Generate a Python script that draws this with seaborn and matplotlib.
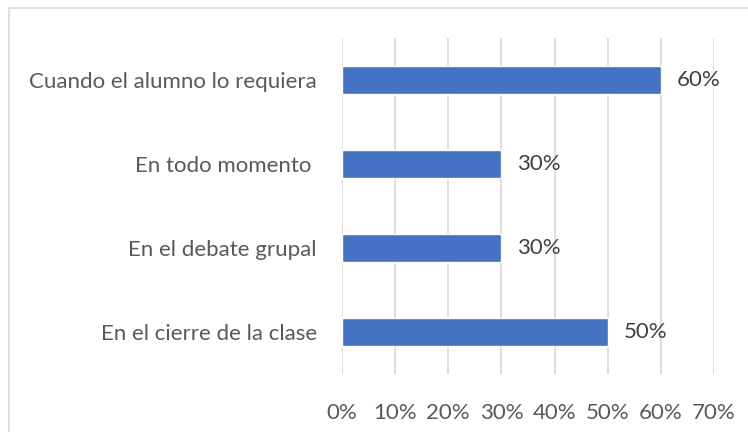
import matplotlib
matplotlib.use("Agg")
import matplotlib.pyplot as plt
import seaborn as sns
import pandas as pd
from matplotlib.patches import Rectangle

categories = ["Cuando el alumno lo requiera", "En todo momento ", "En el debate grupal", "En el cierre de la clase"]
values = [60, 30, 30, 50]
xticks = [0, 10, 20, 30, 40, 50, 60, 70]
xtick_labels = ["0%", "10%", "20%", "30%", "40%", "50%", "60%", "70%"]

sns.set_theme(style="white")
plt.rcParams['font.family'] = ['Lato', 'DejaVu Sans']

df = pd.DataFrame({"cat": categories, "val": values})

fig = plt.figure(figsize=(7.48, 4.32), dpi=100)
ax = fig.add_axes([342/748, 1-374/432, (714-342)/748, (374-38)/432])

sns.barplot(data=df, y="cat", x="val", color="#4472C4", width=0.345, ax=ax, saturation=1, zorder=3)

ax.set_xlim(0, 70)
ax.set_ylim(3.5, -0.5)
ax.set_xticks(xticks)
ax.set_xticklabels(xtick_labels)
ax.xaxis.grid(True, color="#D9D9D9", linewidth=1.2, zorder=0)
ax.yaxis.grid(False)
for s in ax.spines.values():
    s.set_visible(False)
ax.set_xlabel("")
ax.set_ylabel("")
ax.tick_params(axis="x", length=0, pad=21, labelsize=16, labelcolor="#595959")
ax.tick_params(axis="y", length=0, pad=18, labelsize=16, labelcolor="#595959")

for i, v in enumerate(values):
    ax.text(v + 3, i, f"{v}%", va="center", ha="left", fontsize=16, color="#404040")

fig.patches.append(Rectangle((9/748, -0.1), 1.2, 1 - 8/432 + 0.1, transform=fig.transFigure,
                             fill=False, edgecolor="#D9D9D9", linewidth=1.2))

fig.savefig("out.png", dpi=100, facecolor="white")
